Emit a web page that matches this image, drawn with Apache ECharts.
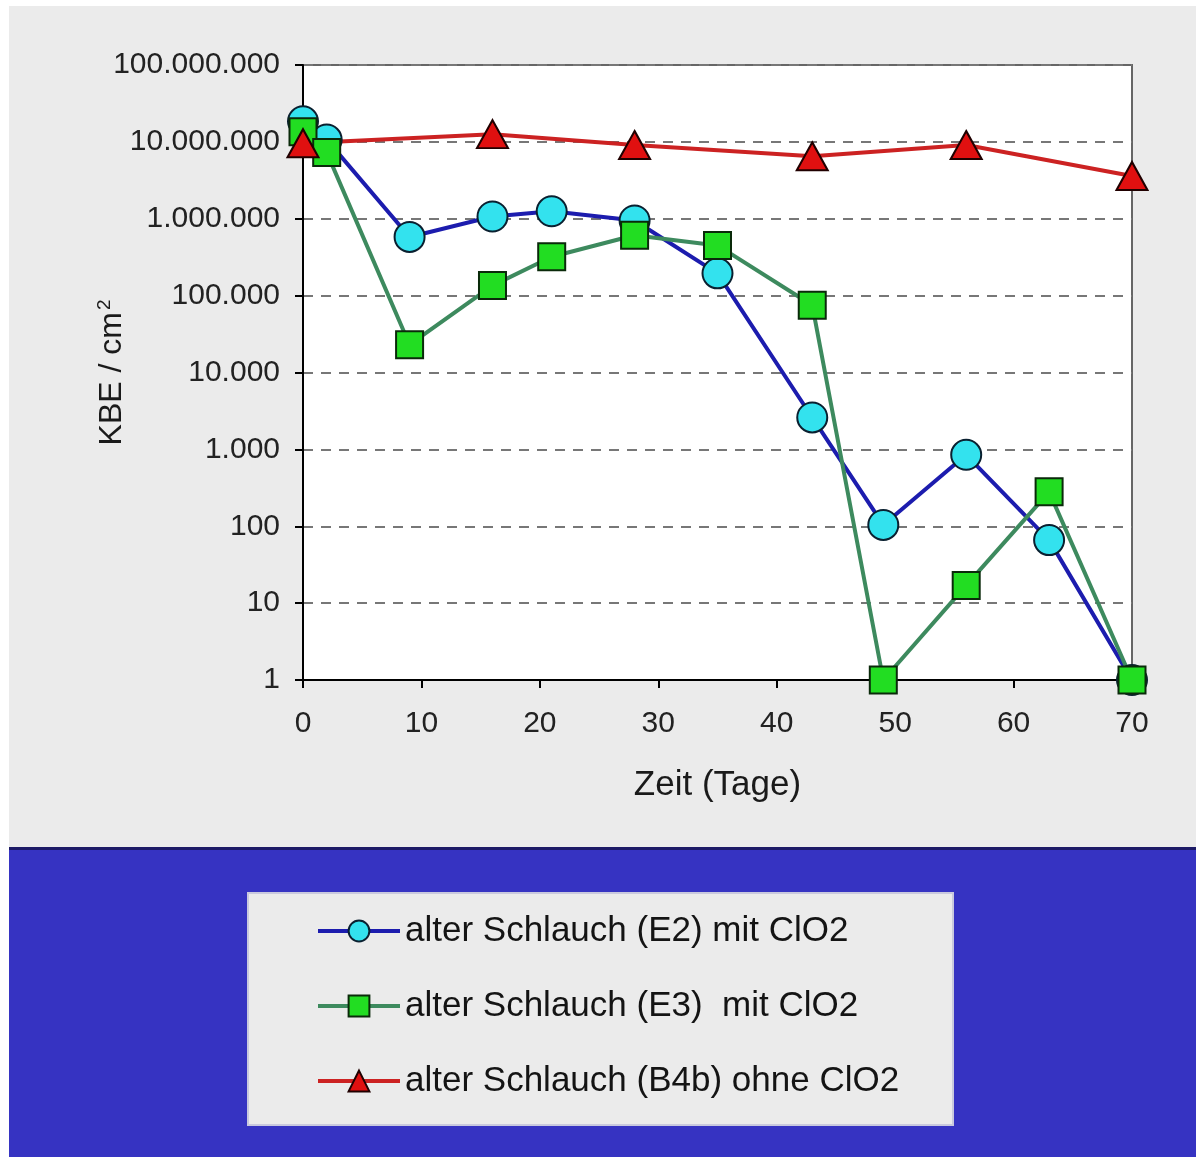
<!DOCTYPE html>
<html>
<head>
<meta charset="utf-8">
<script src="https://cdn.jsdelivr.net/npm/echarts@6/dist/echarts.min.js"></script>
<style>
html,body{margin:0;padding:0;background:#ffffff;}
#c{width:1196px;height:1157px;}
</style>
</head>
<body>
<div id="c"></div>
<script>
// ---- data ----
const days = [0, 2, 9, 16, 21, 28, 35, 43, 49, 56, 63, 70];
const e2Values = [1.85e7, 1.07e7, 5.8e5, 1.07e6, 1.25e6, 9.5e5, 1.95e5, 2600, 104, 850, 66, 1];
const e3Values = [1.35e7, 7.3e6, 2.3e4, 1.35e5, 3.2e5, 6.1e5, 4.5e5, 7.5e4, 1, 17, 280, 1];
const b4bDays = [0, 16, 28, 43, 56, 70];
const b4bValues = [9.6e6, 1.26e7, 9.1e6, 6.5e6, 9.1e6, 3.6e6];
const seriesNames = [
  'alter Schlauch (E2) mit ClO2',
  'alter Schlauch (E3)  mit ClO2',
  'alter Schlauch (B4b) ohne ClO2'
];
const xTitle = 'Zeit (Tage)';

function pairs(xs, ys) { return xs.map((x, i) => [x, ys[i]]); }
function fmt(v) {
  return Math.round(v).toString().replace(/\B(?=(\d{3})+(?!\d))/g, '.');
}

const FONT = '"Liberation Sans", Arial, sans-serif';
const chart = echarts.init(document.getElementById('c'), null, {renderer: 'canvas'});
chart.setOption({
  animation: false,
  backgroundColor: '#ffffff',
  graphic: [
    {type: 'rect', shape: {x: 9, y: 6, width: 1187, height: 843}, style: {fill: '#ebebeb'}, z: -10},
    {type: 'rect', shape: {x: 9, y: 848, width: 1187, height: 309}, style: {fill: '#3633c2'}, z: -10},
    {type: 'rect', shape: {x: 9, y: 847, width: 1187, height: 3}, style: {fill: '#1c1a66'}, z: -9},
    {type: 'rect', shape: {x: 248, y: 893, width: 705, height: 232}, style: {fill: '#ebebeb', stroke: '#c9c9de', lineWidth: 2}, z: -8}
  ],
  grid: {
    left: 303, top: 65, right: 64, bottom: 477,
    show: true, backgroundColor: '#ffffff', borderColor: '#666666', borderWidth: 2
  },
  xAxis: {
    type: 'value', min: 0, max: 70, interval: 10,
    name: xTitle, nameLocation: 'middle', nameGap: 88,
    nameTextStyle: {fontSize: 35, color: '#1a1a1a', fontFamily: FONT},
    axisLine: {show: true, onZero: false, lineStyle: {color: '#000', width: 2}},
    axisTick: {show: true, inside: false, length: 8, lineStyle: {color: '#000', width: 2}},
    axisLabel: {fontSize: 30, color: '#222', fontFamily: FONT, margin: 29},
    splitLine: {show: false}
  },
  yAxis: {
    type: 'log', logBase: 10, min: 1, max: 1e8,
    name: 'KBE / cm{sup|2}', nameLocation: 'middle', nameGap: 173, nameRotate: 90,
    nameMoveOverlap: false,
    nameTextStyle: {fontSize: 32, color: '#1a1a1a', fontFamily: FONT,
      rich: {sup: {fontSize: 19, color: '#1a1a1a', fontFamily: FONT, verticalAlign: 'top', padding: [0, 0, 16, 2]}}},
    axisLine: {show: true, lineStyle: {color: '#000', width: 2}},
    axisTick: {show: true, inside: false, length: 8, lineStyle: {color: '#000', width: 2}},
    axisLabel: {fontSize: 30, color: '#222', fontFamily: FONT, margin: 23, formatter: fmt},
    splitLine: {show: true, lineStyle: {color: '#777777', width: 2, type: [10, 8]}}
  },
  legend: {
    orient: 'vertical', left: 311, top: 907,
    itemWidth: 82, itemHeight: 26, itemGap: 37,
    lineStyle: {width: 4},
    textStyle: {fontSize: 35, color: '#141414', fontFamily: FONT, lineHeight: 38},
    data: seriesNames
  },
  series: [
    {
      name: seriesNames[0], type: 'line', data: pairs(days, e2Values),
      symbol: 'circle', symbolSize: 30,
      lineStyle: {color: '#1c1cae', width: 4},
      itemStyle: {color: '#33e2ee', borderColor: '#0a2030', borderWidth: 2}
    },
    {
      name: seriesNames[1], type: 'line', data: pairs(days, e3Values),
      symbol: 'rect', symbolSize: 27,
      lineStyle: {color: '#3d8a5e', width: 4},
      itemStyle: {color: '#22dd22', borderColor: '#0a2a0a', borderWidth: 2}
    },
    {
      name: seriesNames[2], type: 'line', data: pairs(b4bDays, b4bValues),
      symbol: 'triangle', symbolSize: [31, 28],
      lineStyle: {color: '#cc2222', width: 4},
      itemStyle: {color: '#e01010', borderColor: '#200000', borderWidth: 2}
    }
  ]
});
</script>
</body>
</html>
